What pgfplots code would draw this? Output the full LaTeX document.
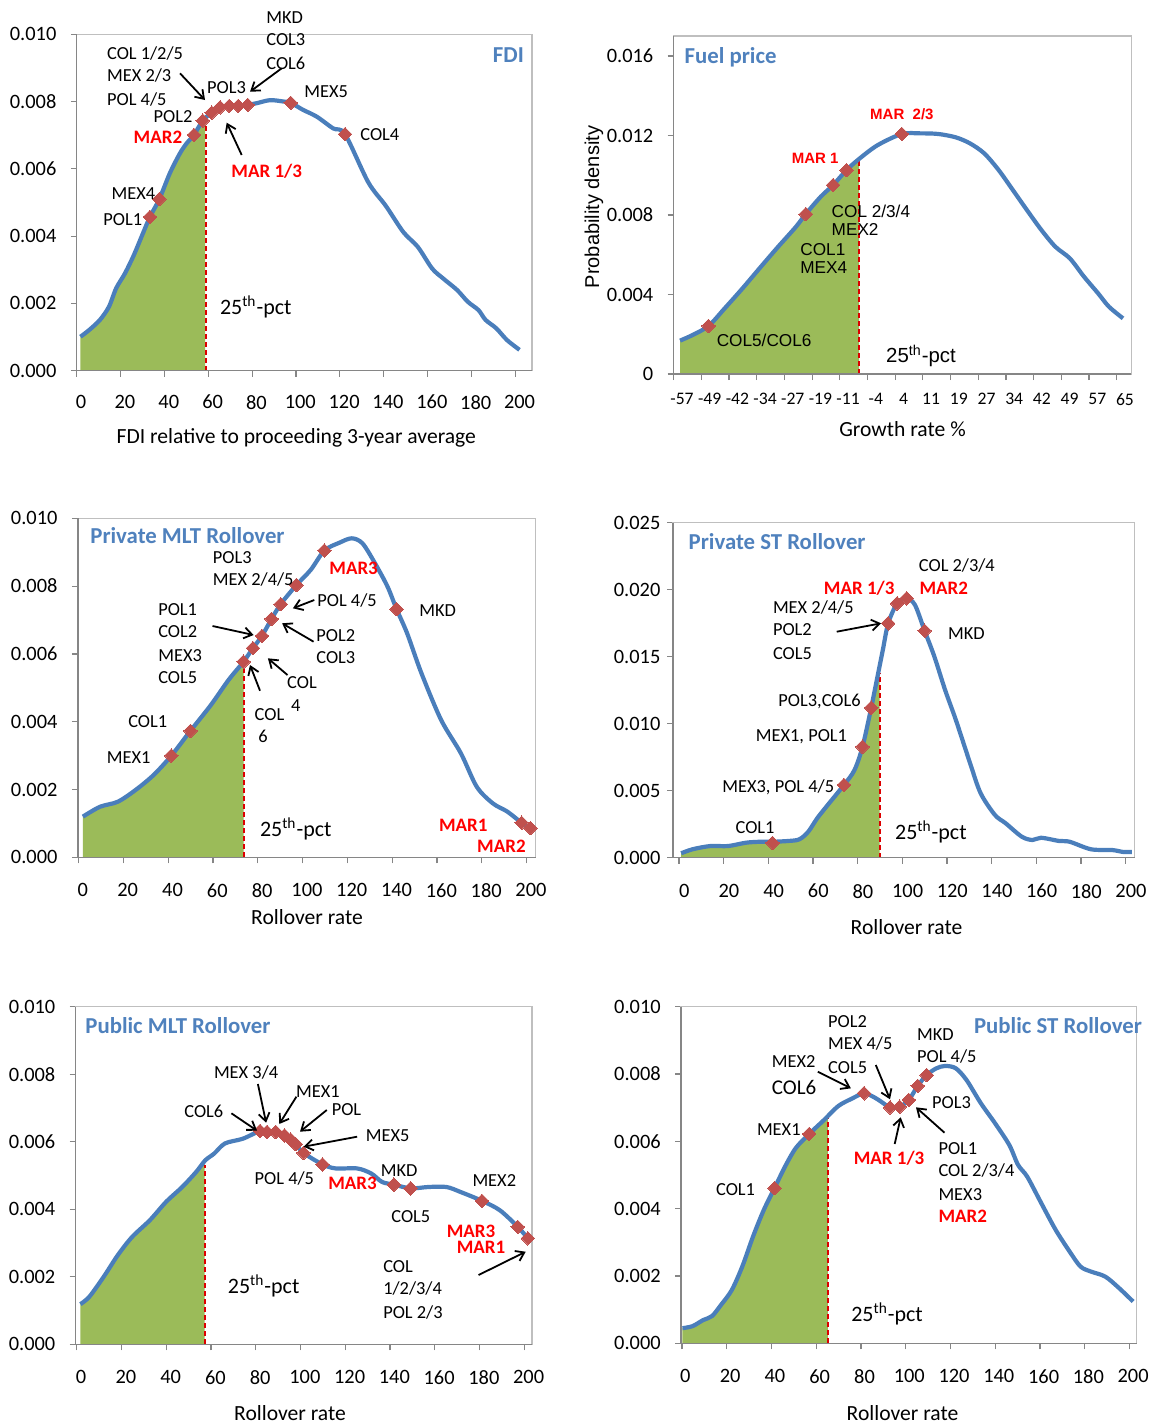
\documentclass[border=0pt]{standalone}
\usepackage{pgfplots}
\pgfplotsset{compat=1.18}
\usepackage{fontspec}
\setmainfont{Carlito}
\newfontfamily\arial{Liberation Sans}
\usetikzlibrary{arrows.meta}
\definecolor{cblue}{HTML}{4A7EBB}
\definecolor{tblue}{HTML}{4F81BD}
\definecolor{mred}{HTML}{C0504D}
\definecolor{fgreen}{HTML}{9BBB59}
\definecolor{dred}{HTML}{DD0000}
\definecolor{framec}{HTML}{BFBFBF}
\definecolor{axgray}{HTML}{868686}
\pgfplotsset{
  panel/.style={
    scale only axis,
    axis line style={framec, line width=0.7pt},
    ymin=0,
    scaled y ticks=false, scaled x ticks=false,
    tick align=outside,
    major tick length=3pt,
    tick style={axgray, line width=0.6pt},
    xtick pos=left, ytick pos=left,
    yticklabel style={anchor=east, inner sep=0pt, xshift=-7pt, font=\fontsize{10.2}{12}\selectfont},
    xticklabel style={anchor=north, inner sep=0pt, yshift=-10pt, font=\fontsize{10.2}{12}\selectfont},
    clip=false,
  },
  curve/.style={cblue, line width=2.1pt, smooth, tension=0.5, no marks},
  fillp/.style={draw=none, fill=fgreen, no marks},
  pct/.style={dred, line width=1pt, dash pattern=on 2.5pt off 1.5pt, no marks},
  dm/.style={only marks, mark=square*, mark size=2.4pt, mark options={rotate=45, fill=mred, draw=mred, line width=0pt}},
  rollx/.style={xticklabels={0,20,40,60,80,100,120,140,160,180,200}},
}
\tikzset{
  lab/.style={anchor=base west, inner sep=0pt, font=\fontsize{9.2}{11}\selectfont},
  redl/.style={anchor=base west, inner sep=0pt, text=red, font=\fontsize{9.5}{11}\selectfont\bfseries},
  ttl/.style={anchor=base west, inner sep=0pt, text=tblue, font=\fontsize{11.4}{13}\selectfont\bfseries},
  xl/.style={anchor=base, inner sep=0pt, font=\fontsize{10.8}{13}\selectfont},
  pctl/.style={anchor=base west, inner sep=0pt, font=\fontsize{11}{13}\selectfont},
  arl/.style={anchor=base west, inner sep=0pt, font=\arial\fontsize{8.6}{10}\selectfont},
  arr/.style={black, line width=0.9pt, -{Straight Barb[length=4pt,width=5.5pt]}},
}
\begin{document}
\begin{tikzpicture}
% ---------------- Panel 1: FDI
\begin{axis}[panel, at={(38.4pt,-185.35pt)}, anchor=south west, width=227.6pt, height=168.25pt,
  xmin=-1.96, xmax=205.7, ymax=0.010,
  xtick={-1.96,18.04,38.04,58.04,78.04,98.04,118.04,138.04,158.04,178.04,198.04}, rollx,
  xticklabel style={xshift=2.15pt, yshift=1pt},
  ytick={0,0.002,0.004,0.006,0.008,0.010}, yticklabels={0.000,0.002,0.004,0.006,0.008,0.010}]
\addplot[fillp] coordinates {(-0.3,0.00101) (3.7,0.00121) (8.6,0.00151) (12.7,0.0019) (16.0,0.00245) (20.0,0.00289) (24.1,0.00344) (28.2,0.00408) (31.4,0.00457) (35.7,0.0051) (40.5,0.00587) (45.1,0.00646) (48.2,0.00676) (51.5,0.00701) (55.5,0.00743) (56.6,0.00749)} \closedcycle;
\addplot[pct] coordinates {(57,0) (57,0.0075)};
\addplot[curve] coordinates {(-0.3,0.00101) (3.7,0.00121) (8.6,0.00151) (12.7,0.0019) (16.0,0.00245) (20.0,0.00289) (24.1,0.00344) (28.2,0.00408) (31.4,0.00457) (35.7,0.0051) (40.5,0.00587) (45.1,0.00646) (48.2,0.00676) (51.5,0.00701) (55.5,0.00743) (59.6,0.00767) (63.4,0.00783) (67.6,0.00787) (71.7,0.00787) (76.0,0.0079) (80.1,0.00795) (86.2,0.00804) (92.2,0.008) (95.6,0.00796) (101.3,0.00775) (107.5,0.00755) (115.0,0.0072) (120.4,0.00703) (131,0.0056) (139,0.0049) (147.0,0.00412) (153.6,0.00368) (160.1,0.00304) (165.0,0.00275) (171.5,0.0024) (176.4,0.00205) (181.3,0.0018) (184.5,0.00151) (189.4,0.00126) (194.3,0.00091) (200.0,0.00062)};
\addplot[dm] coordinates {(31.4,0.00457) (35.7,0.0051) (51.5,0.00701) (55.5,0.00743) (59.6,0.00767) (63.4,0.00783) (67.6,0.00787) (71.7,0.00787) (76.0,0.0079) (95.6,0.00796) (120.4,0.00703)};
\draw[axgray, line width=0.7pt] (rel axis cs:0,1) -- (rel axis cs:0,0) -- (rel axis cs:1,0);
\end{axis}
% ---------------- Panel 2: Fuel price
\begin{axis}[panel, at={(336.85pt,-187pt)}, anchor=south west, width=228.8pt, height=169pt,
  xmin=-0.30, xmax=16.23, ymax=0.01701,
  xtick={-0.3,0.7,1.7,2.7,3.7,4.7,5.7,6.7,7.7,8.7,9.7,10.7,11.7,12.7,13.7,14.7,15.7},
  xticklabels={-57,-49,-42,-34,-27,-19,-11,-4,4,11,19,27,34,42,49,57,65},
  xticklabel style={xshift=4.15pt, yshift=3.5pt, font=\fontsize{8.8}{10}\selectfont},
  ytick={0,0.004,0.008,0.012,0.016}, yticklabels={0,0.004,0.008,0.012,0.016}]
\addplot[fillp] coordinates {(-0.07,0.00168) (0.38,0.00196) (0.96,0.00242) (1.54,0.0033) (2.18,0.0043) (2.82,0.00535) (3.47,0.0064) (4.11,0.0074) (4.47,0.00805) (5.01,0.00892) (5.46,0.00951) (5.94,0.01026) (6.40,0.01082)} \closedcycle;
\addplot[pct] coordinates {(6.40,0) (6.40,0.0108)};
\addplot[curve] coordinates {(-0.07,0.00168) (0.38,0.00196) (0.96,0.00242) (1.54,0.0033) (2.18,0.0043) (2.82,0.00535) (3.47,0.0064) (4.11,0.0074) (4.47,0.00805) (5.01,0.00892) (5.46,0.00951) (5.94,0.01026) (6.42,0.01085) (7.07,0.01152) (7.94,0.01208) (8.61,0.01211) (9.25,0.01208) (9.89,0.01191) (10.41,0.0116) (10.92,0.0111) (11.44,0.01026) (11.95,0.00926) (12.46,0.00825) (12.98,0.00725) (13.49,0.0064) (14.01,0.00582) (14.52,0.0049) (15.03,0.00406) (15.42,0.00339) (15.93,0.0028)};
\addplot[dm] coordinates {(0.96,0.00242) (4.47,0.00805) (5.46,0.00951) (5.94,0.01026) (7.94,0.01208)};
\draw[axgray, line width=0.7pt] (rel axis cs:0,1) -- (rel axis cs:0,0) -- (rel axis cs:1,0);
\end{axis}
% ---------------- Panel 3: Private MLT
\begin{axis}[panel, at={(38.95pt,-428.65pt)}, anchor=south west, width=228.9pt, height=169.5pt,
  xmin=-2.23, xmax=202.1, ymax=0.010,
  xtick={-1.92,18.08,38.08,58.08,78.08,98.08,118.08,138.08,158.08,178.08,198.08}, rollx,
  xticklabel style={xshift=2.15pt},
  ytick={0,0.002,0.004,0.006,0.008,0.010}, yticklabels={0.000,0.002,0.004,0.006,0.008,0.010}]
\addplot[fillp] coordinates {(0,0.0012) (7.6,0.00149) (15.6,0.00164) (23.6,0.00199) (31.6,0.00243) (39.5,0.0030) (48.0,0.00373) (57.1,0.00449) (65.0,0.00523) (71.7,0.00577)} \closedcycle;
\addplot[pct] coordinates {(71.7,0) (71.7,0.0057)};
\addplot[curve] coordinates {(0,0.0012) (7.6,0.00149) (15.6,0.00164) (23.6,0.00199) (31.6,0.00243) (39.5,0.0030) (48.0,0.00373) (57.1,0.00449) (65.0,0.00523) (71.7,0.00577) (75.9,0.00617) (79.9,0.00653) (84.2,0.00703) (88.3,0.00747) (95.3,0.00803) (101.7,0.00848) (107.8,0.00905) (114.5,0.00928) (120.0,0.00941) (124.8,0.00926) (130.4,0.00867) (136.0,0.00798) (140.0,0.00732) (144.7,0.00661) (151.1,0.00543) (159.9,0.00405) (168.7,0.00307) (175.8,0.00208) (183.0,0.00159) (189.4,0.00135) (195.8,0.00102) (199.8,0.00086)};
\addplot[dm] coordinates {(39.5,0.0030) (48.0,0.00373) (71.7,0.00577) (75.9,0.00617) (79.9,0.00653) (84.2,0.00703) (88.3,0.00747) (95.3,0.00803) (107.8,0.00905) (140.0,0.00732) (195.8,0.00102) (199.8,0.00086)};
\draw[axgray, line width=0.7pt] (rel axis cs:0,1) -- (rel axis cs:0,0) -- (rel axis cs:1,0);
\end{axis}
% ---------------- Panel 4: Private ST
\begin{axis}[panel, at={(336.5pt,-428.85pt)}, anchor=south west, width=230.75pt, height=167.5pt,
  xmin=-5.06, xmax=201.6, ymax=0.025,
  xtick={-2.37,17.63,37.63,57.63,77.63,97.63,117.63,137.63,157.63,177.63,197.63}, rollx,
  xticklabel style={xshift=2.65pt},
  yticklabel style={xshift=3.9pt},
  ytick={0,0.005,0.010,0.015,0.020,0.025}, yticklabels={0.000,0.005,0.010,0.015,0.020,0.025}]
\addplot[fillp] coordinates {(-1.4,0.00033) (3.7,0.00063) (11.6,0.00087) (19.6,0.00087) (27.6,0.00112) (33.9,0.00119) (39.5,0.00119) (46.7,0.00125) (51.5,0.00137) (55.5,0.00194) (59.5,0.00294) (64.2,0.00393) (71.5,0.00543) (76.2,0.00654) (79.8,0.00828) (83.7,0.01119) (86.5,0.01351) (87.5,0.0143)} \closedcycle;
\addplot[pct] coordinates {(87.5,0) (87.5,0.0138)};
\addplot[curve] coordinates {(-1.4,0.00033) (3.7,0.00063) (11.6,0.00087) (19.6,0.00087) (27.6,0.00112) (33.9,0.00119) (39.5,0.00119) (46.7,0.00125) (51.5,0.00137) (55.5,0.00194) (59.5,0.00294) (64.2,0.00393) (71.5,0.00543) (76.2,0.00654) (79.8,0.00828) (83.7,0.01119) (86.5,0.01351) (88.9,0.0155) (91.3,0.01749) (95.3,0.01898) (99.6,0.01936) (103.3,0.01886) (107.6,0.01694) (112.0,0.015) (116.8,0.01251) (121.6,0.01028) (128.0,0.00704) (132.7,0.00481) (139.1,0.00319) (143.9,0.00257) (151.1,0.00157) (155.9,0.00132) (159.8,0.00149) (167.8,0.00125) (172.6,0.00119) (182.1,0.00063) (191.7,0.00057) (196.5,0.00043) (200.4,0.00043)};
\addplot[dm] coordinates {(39.5,0.0011) (71.5,0.00543) (79.8,0.00828) (83.7,0.01119) (91.3,0.01749) (95.3,0.01898) (99.6,0.01936) (107.6,0.01694)};
\draw[axgray, line width=0.7pt] (rel axis cs:0,1) -- (rel axis cs:0,0) -- (rel axis cs:1,0);
\end{axis}
% ---------------- Panel 5: Public MLT
\begin{axis}[panel, at={(37.85pt,-672.15pt)}, anchor=south west, width=228.2pt, height=168.8pt,
  xmin=-2.41, xmax=201.6, ymax=0.010,
  xtick={-1.9,18.1,38.1,58.1,78.1,98.1,118.1,138.1,158.1,178.1,198.1}, rollx,
  xticklabel style={xshift=2.15pt},
  ytick={0,0.002,0.004,0.006,0.008,0.010}, yticklabels={0.000,0.002,0.004,0.006,0.008,0.010}]
\addplot[fillp] coordinates {(-0.3,0.00119) (3.7,0.00141) (10.1,0.002) (16.4,0.00264) (22.8,0.00318) (30.8,0.00368) (38.0,0.00422) (45.2,0.00466) (51.5,0.00511) (55.2,0.00543)} \closedcycle;
\addplot[pct] coordinates {(55.2,0) (55.2,0.0053)};
\addplot[curve] coordinates {(-0.3,0.00119) (3.7,0.00141) (10.1,0.002) (16.4,0.00264) (22.8,0.00318) (30.8,0.00368) (38.0,0.00422) (45.2,0.00466) (51.5,0.00511) (55.5,0.00545) (59.5,0.00565) (64.3,0.00595) (72.3,0.00609) (80.0,0.00632) (83.1,0.00629) (87.0,0.00629) (90.9,0.00619) (93.8,0.00606) (95.9,0.00593) (99.4,0.00567) (107.9,0.00533) (113.8,0.00521) (123.4,0.00521) (129.7,0.00506) (134.5,0.00481) (139.8,0.00473) (147.3,0.00462) (155.3,0.00466) (163.3,0.00466) (169.7,0.00451) (179.2,0.00425) (187.2,0.00397) (195.2,0.00348) (199.7,0.00314)};
\addplot[dm] coordinates {(80.0,0.00632) (83.1,0.00629) (87.0,0.00629) (90.9,0.00619) (93.8,0.00606) (95.9,0.00593) (99.4,0.00567) (107.9,0.00533) (139.8,0.00473) (147.3,0.00462) (179.2,0.00425) (195.2,0.00348) (199.7,0.00314)};
\draw[axgray, line width=0.7pt] (rel axis cs:0,1) -- (rel axis cs:0,0) -- (rel axis cs:1,0);
\end{axis}
% ---------------- Panel 6: Public ST
\begin{axis}[panel, at={(340.55pt,-671.65pt)}, anchor=south west, width=227.8pt, height=168.3pt,
  xmin=-1.92, xmax=201.6, ymax=0.010,
  xtick={-1.56,18.44,38.44,58.44,78.44,98.44,118.44,138.44,158.44,178.44,198.44}, rollx,
  xticklabel style={xshift=1.75pt},
  ytick={0,0.002,0.004,0.006,0.008,0.010}, yticklabels={0.000,0.002,0.004,0.006,0.008,0.010}]
\addplot[fillp] coordinates {(-1.3,0.00045) (3.2,0.00051) (7.9,0.00069) (11.9,0.00081) (15.9,0.00114) (20.7,0.00158) (25.4,0.00228) (30.2,0.00317) (35.0,0.00396) (39.8,0.00461) (44.5,0.00525) (49.3,0.0058) (55.3,0.00622) (62.0,0.00664) (63.6,0.00673)} \closedcycle;
\addplot[pct] coordinates {(63.6,0) (63.6,0.0068)};
\addplot[curve] coordinates {(-1.3,0.00045) (3.2,0.00051) (7.9,0.00069) (11.9,0.00081) (15.9,0.00114) (20.7,0.00158) (25.4,0.00228) (30.2,0.00317) (35.0,0.00396) (39.8,0.00461) (44.5,0.00525) (49.3,0.0058) (55.3,0.00622) (62.0,0.00664) (68.3,0.00705) (74.7,0.00728) (79.8,0.00743) (84.3,0.00731) (87.4,0.00718) (91.4,0.00701) (95.7,0.00703) (99.8,0.00723) (103.8,0.00765) (107.8,0.00797) (112.1,0.00817) (116.1,0.00824) (120.8,0.00817) (125.6,0.00782) (132.0,0.00713) (138.3,0.00654) (144.7,0.00589) (148.6,0.0053) (152.7,0.00495) (159.0,0.00416) (165.4,0.00337) (171.7,0.00272) (176.5,0.00228) (181.2,0.00213) (187.6,0.00198) (193.9,0.00163) (200.0,0.00124)};
\addplot[dm] coordinates {(39.8,0.00461) (55.3,0.00622) (79.8,0.00743) (91.4,0.00701) (95.7,0.00703) (99.8,0.00723) (103.8,0.00765) (107.8,0.00797)};
\draw[axgray, line width=0.7pt] (rel axis cs:0,1) -- (rel axis cs:0,0) -- (rel axis cs:1,0);
\end{axis}
% ---------------- annotations (pixel grid of the reference)
\begin{scope}[x=0.5pt,y=-0.5pt]
% panel 1
\node[lab] at (266,23.3) {MKD};
\node[lab] at (266,46) {COL3};
\node[lab] at (266,69.3) {COL6};
\node[lab] at (106.7,59.3) {COL 1/2/5};
\node[lab] at (106.7,81.7) {MEX 2/3};
\node[lab] at (106.7,105.3) {POL 4/5};
\node[lab] at (206.7,93.7) {POL3};
\node[lab] at (153.3,122.7) {POL2};
\node[redl] at (133.3,143.1) {MAR2};
\node[redl] at (231,177.8) {MAR 1/3};
\node[lab] at (304,97) {MEX5};
\node[lab] at (360,140.3) {COL4};
\node[lab] at (111.2,199.3) {MEX4};
\node[lab] at (103,225.3) {POL1};
\node[ttl, anchor=base east] at (524.3,62) {FDI};
\node[pctl] at (219.6,314.7) {25\textsuperscript{th}-pct};
\draw[arr] (281.7,68.3) -- (250,91.7);
\draw[arr] (180,73.3) -- (205,100);
\draw[arr] (241.7,155) -- (226.7,122.7);
\node[xl] at (296.3,443) {FDI relative to proceeding 3-year average};
% panel 2
\node[ttl] at (684.3,63) {Fuel price};
\node[arl] at (831.3,217.9) {COL 2/3/4};
\node[arl] at (831.3,235.5) {MEX2};
\node[arl] at (800,255.2) {COL1};
\node[arl] at (800,273.9) {MEX4};
\node[arl] at (716.4,346.2) {COL5/COL6};
\node[anchor=base west, inner sep=0pt, text=red, font=\arial\fontsize{7.5}{9}\selectfont\bfseries] at (791.5,163.4) {MAR 1};
\node[anchor=base west, inner sep=0pt, text=red, font=\arial\fontsize{7.5}{9}\selectfont\bfseries] at (869.8,119.4) {MAR\ \ 2/3};
\node[anchor=base west, inner sep=0pt, font=\arial\fontsize{10.2}{12}\selectfont] at (885.8,362.3) {25\textsuperscript{th}-pct};
\node[anchor=center, rotate=90, inner sep=0pt, font=\arial\fontsize{10}{12}\selectfont] at (594,207) {Probability density};
\node[xl] at (902.5,436) {Growth rate \%};
% panel 3
\node[ttl] at (90,543.7) {Private MLT Rollover};
\node[lab] at (212.5,563.7) {POL3};
\node[lab] at (212.5,585) {MEX 2/4/5};
\node[redl] at (329,574.8) {MAR3};
\node[lab] at (317,606) {POL 4/5};
\draw[arr] (314.3,600) -- (292.9,608.3);
\node[lab] at (419,616) {MKD};
\node[lab] at (157.9,615.7) {POL1};
\node[lab] at (157.9,637) {COL2};
\node[lab] at (157.9,661.7) {MEX3};
\node[lab] at (157.9,683.7) {COL5};
\draw[arr] (212.5,626) -- (253.6,635);
\node[lab] at (316,641) {POL2};
\node[lab] at (316,663) {COL3};
\draw[arr] (313.6,641.7) -- (282.1,623.3);
\node[lab] at (286.8,688) {COL};
\draw[arr] (287.5,675) -- (267.9,658.3);
\node[lab] at (290.7,711.7) {4};
\node[lab] at (254.3,720.3) {COL};
\node[lab] at (257.9,742.7) {6};
\draw[arr] (260,690.7) -- (250,665);
\node[lab] at (127.9,727) {COL1};
\node[lab] at (106.4,763.3) {MEX1};
\node[pctl] at (259.6,836.3) {25\textsuperscript{th}-pct};
\node[redl] at (438.6,831.1) {MAR1};
\node[redl] at (476.8,852.8) {MAR2};
\node[xl] at (307,924) {Rollover rate};
% panel 4
\node[ttl] at (688.3,549.3) {Private ST Rollover};
\node[lab] at (918.5,571.7) {COL 2/3/4};
\node[redl] at (823.5,594.4) {MAR 1/3};
\node[redl] at (919.2,594.4) {MAR2};
\node[lab] at (772.6,613.7) {MEX 2/4/5};
\node[lab] at (772.6,635) {POL2};
\node[lab] at (772.6,659.3) {COL5};
\draw[arr] (836.7,631.7) -- (881.1,623.3);
\node[lab] at (947.7,639.3) {MKD};
\node[lab] at (778,706.7) {POL3,COL6};
\node[lab] at (755.5,741) {MEX1, POL1};
\node[lab] at (722,792.7) {MEX3, POL 4/5};
\node[lab] at (735.2,833) {COL1};
\node[pctl] at (894.7,839) {25\textsuperscript{th}-pct};
\node[xl] at (906.5,934) {Rollover rate};
% panel 5
\node[ttl] at (85,1033.7) {Public MLT Rollover};
\node[lab] at (213.6,1078.3) {MEX 3/4};
\draw[arr] (257.9,1084) -- (266.1,1122.7);
\node[lab] at (295.7,1097.3) {MEX1};
\draw[arr] (296.4,1096.7) -- (279.3,1124);
\node[lab] at (331.4,1115.3) {POL};
\draw[arr] (326.8,1110) -- (300,1131.7);
\node[lab] at (184,1117.3) {COL6};
\draw[arr] (231.4,1113.3) -- (257.1,1130.7);
\node[lab] at (365.4,1141.3) {MEX5};
\draw[arr] (357.1,1136.7) -- (303.6,1146.7);
\node[lab] at (254.3,1184.7) {POL 4/5};
\node[redl] at (327.9,1189.4) {MAR3};
\node[lab] at (380.4,1176) {MKD};
\node[lab] at (391,1222.7) {COL5};
\node[lab] at (472.1,1186.7) {MEX2};
\node[redl] at (446.4,1237.1) {MAR3};
\node[redl] at (456.4,1253.1) {MAR1};
\draw[arr] (478.6,1275) -- (525.7,1251.7);
\node[lab] at (382.9,1272.7) {COL};
\node[lab] at (382.9,1294.3) {1/2/3/4};
\node[lab] at (382.9,1318) {POL 2/3};
\node[pctl] at (227.5,1293.7) {25\textsuperscript{th}-pct};
\node[xl] at (290,1420) {Rollover rate};
% panel 6
\node[ttl] at (973.7,1033) {Public ST Rollover};
\node[lab] at (827.8,1027.7) {POL2};
\node[lab] at (827.8,1049.3) {MEX 4/5};
\node[lab] at (827.8,1073.7) {COL5};
\node[lab] at (916.7,1040.3) {MKD};
\node[lab] at (916.7,1062.7) {POL 4/5};
\node[lab] at (771.5,1067.3) {MEX2};
\node[lab, font=\fontsize{10.5}{12}\selectfont] at (771.5,1094.3) {COL6};
\draw[arr] (817.8,1071.7) -- (850.9,1088.3);
\draw[arr] (875.8,1065) -- (890,1099.3);
\draw[arr] (894.7,1144) -- (900.7,1117.3);
\draw[arr] (944.5,1132.7) -- (916,1107.3);
\node[lab] at (931.7,1108.7) {POL3};
\node[lab] at (756.6,1135.7) {MEX1};
\node[redl] at (853.4,1164.1) {MAR 1/3};
\node[lab] at (938.1,1154.3) {POL1};
\node[lab] at (938.1,1176.7) {COL 2/3/4};
\node[lab] at (938.1,1200.3) {MEX3};
\node[redl] at (938.1,1222.4) {MAR2};
\node[lab] at (715.7,1195) {COL1};
\node[pctl] at (850.9,1321.7) {25\textsuperscript{th}-pct};
\node[xl] at (902.5,1420) {Rollover rate};
\pgfresetboundingbox
\path (0,0) rectangle (1158,1424);
\end{scope}
\end{tikzpicture}
\end{document}
